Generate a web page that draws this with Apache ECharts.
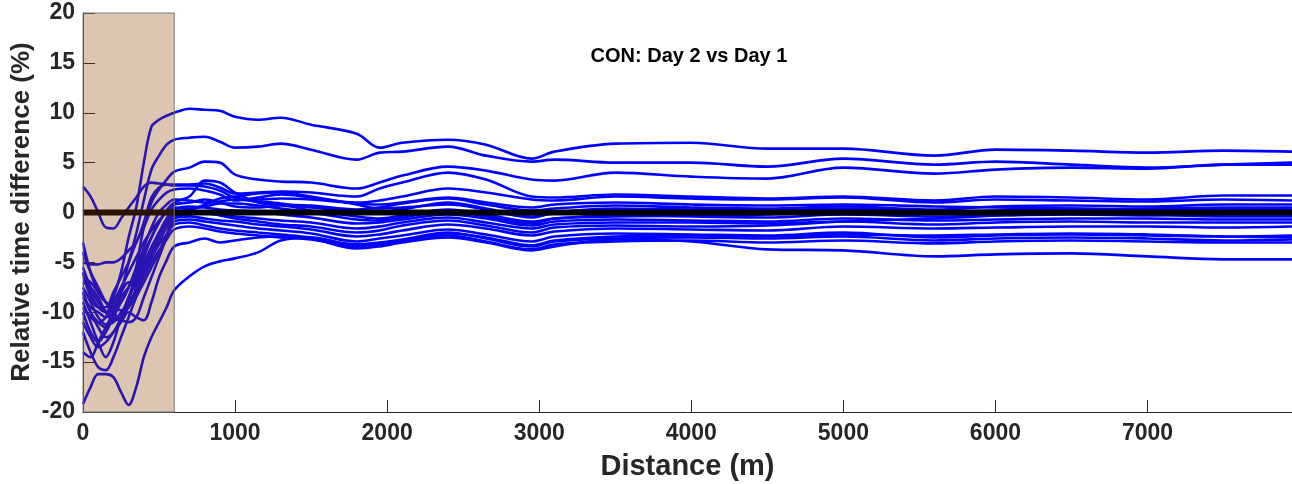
<!DOCTYPE html>
<html>
<head>
<meta charset="utf-8">
<script src="https://cdn.jsdelivr.net/npm/echarts@6/dist/echarts.min.js"></script>
<style>
  html, body { margin: 0; padding: 0; background: #ffffff; }
  #chart { width: 1292px; height: 484px; }
</style>
</head>
<body>
<div id="chart"></div>
<script>
// Distance samples (m) shared by every run
const distance = [0, 50, 100, 150, 200, 250, 300, 350, 400, 450, 500, 550,
  600, 700, 800, 900, 1000, 1150, 1300, 1500, 1800, 1950, 2100, 2400, 2650,
  2950, 3100, 3500, 4000, 4500, 5000, 5600, 6000, 6500, 7000, 7500, 7950];

// Relative time difference (%) of each participant, Day 2 vs Day 1
const run01 = [-6, -8, -9.5, -10, -8.5, -6, -2.5, 0.5, 5.0, 8.6, 9.3, 9.7,
  10.0, 10.4, 10.3, 10.2, 9.6, 9.3, 9.5, 8.8, 7.9, 6.5, 7.0, 7.3, 6.8,
  5.4, 6.1, 6.9, 7.0, 6.4, 6.4, 5.7, 6.3, 6.2, 6.0, 6.2, 6.1];
const run02 = [-8, -10, -11, -11.5, -10.5, -8, -5, -2.1, 1.2, 4.3, 5.7, 6.8,
  7.3, 7.5, 7.6, 7.1, 6.5, 6.6, 6.9, 6.3, 5.3, 6.0, 6.1, 6.6, 5.7,
  5.1, 5.3, 5.0, 5.0, 4.6, 5.4, 4.8, 5.1, 4.8, 4.5, 4.8, 5.0];
const run03 = [-4, -6, -7.5, -9, -10, -10.8, -9, -5.5, -1.5, 1.0, 2.3, 3.3,
  4.1, 4.5, 5.1, 5.0, 3.8, 3.3, 3.1, 3.0, 2.4, 3.0, 3.7, 4.6, 4.2,
  3.3, 3.2, 4.0, 3.6, 3.4, 4.5, 3.9, 4.3, 4.5, 4.4, 4.8, 4.8];
const run04 = [-5, -5.2, -5.2, -5, -5, -4.6, -3.8, -3, -1, 1.5, 2.5, 2.8,
  2.8, 2.8, 2.9, 2.5, 1.9, 2.0, 2.1, 2.0, 1.6, 2.4, 3.0, 4.0, 3.3,
  1.6, 1.5, 1.8, 1.6, 1.4, 1.6, 1.2, 1.6, 1.5, 1.3, 1.7, 1.7];
const run05 = [2.6, 1.6, 0, -1.5, -1.6, -0.6, 0.5, 1.5, 2.6, 3.0, 2.9, 2.8,
  2.7, 2.7, 2.6, 2.2, 1.5, 1.3, 1.4, 1.3, 1.0, 1.2, 1.6, 2.4, 2.0,
  1.3, 1.2, 1.6, 1.4, 1.3, 1.5, 1.0, 1.3, 1.2, 1.1, 1.3, 1.2];
const run06 = [-8, -10, -11.5, -12.5, -12, -10.5, -8.5, -6.5, -4.5, -2.5, -1, 0.2,
  1.0, 1.6, 3.2, 3.0, 2.0, 1.0, 0.8, 0.7, 0.3, 0.5, 0.9, 1.4, 0.8,
  0.2, 0.4, 0.7, 0.5, 0.4, 0.6, 0.3, 0.6, 0.7, 0.6, 0.8, 0.8];
const run07 = [-6, -8.5, -9.5, -9.5, -8, -6.5, -5, -3, -1.5, 0.3, 1.3, 2.0,
  2.3, 2.4, 2.2, 1.8, 1.2, 1.5, 1.8, 1.5, 0.9, 0.8, 1.0, 1.5, 1.0,
  0.5, 0.8, 1.0, 0.8, 0.7, 0.8, 0.6, 0.5, 0.4, 0.3, 0.4, 0.3];
const run08 = [-3, -6, -8, -9, -9.5, -9, -7.5, -5.5, -3.5, -1.5, 0, 0.8,
  1.3, 1.2, 1.0, 1.1, 1.3, 1.1, 0.9, 0.5, 0.2, 0.1, 0.3, 1.0, 0.4,
  -0.4, -0.1, 0.2, 0.1, 0.0, 0.3, -0.1, 0.1, 0.2, 0.1, 0.0, 0.0];
const run09 = [-10, -12, -13, -12, -10.5, -9, -7.5, -6, -4, -2.5, -1, 0.2,
  0.8, 1.0, 1.3, 1.0, 0.6, 0.5, 0.7, 0.2, -0.4, -0.6, -0.3, 0.3, -0.2,
  -0.9, -0.6, -0.3, -0.4, -0.5, -0.2, -0.4, -0.3, -0.2, -0.3, -0.2, -0.2];
const run10 = [-7, -7.5, -8.5, -10, -10.8, -10.5, -9.5, -7.5, -5.5, -3.5, -2, -0.6,
  0.3, 0.6, 0.5, 0.3, 0.2, 0.1, -0.2, -0.5, -1.1, -1.0, -0.7, -0.2, -0.6,
  -1.3, -0.9, -0.7, -0.8, -0.9, -0.6, -0.8, -0.7, -0.6, -0.6, -0.7, -0.7];
const run11 = [-9, -11, -13, -14.5, -13, -10.5, -8.5, -7, -5.5, -4, -2.5, -1.0,
  0.1, 0.2, -0.1, -0.2, -0.4, -0.6, -0.8, -1.0, -1.6, -1.4, -1.0, -0.5, -1.0,
  -1.6, -1.2, -1.0, -1.0, -1.1, -0.9, -1.2, -1.0, -0.9, -1.0, -1.0, -1.0];
const run12 = [-6.5, -7, -8, -9, -9.5, -9.8, -9.5, -8, -6, -4.5, -3, -1.5,
  -0.4, -0.2, 0.0, -0.3, -0.6, -0.9, -1.2, -1.4, -2.0, -1.8, -1.3, -0.8, -1.3,
  -2.0, -1.5, -1.3, -1.4, -1.3, -0.9, -0.6, -0.3, 0.2, 0.4, 0.5, 0.5];
const run13 = [-12, -14, -15.5, -15.8, -14.5, -12.5, -10.5, -8.5, -7, -5.5, -4, -2.2,
  -0.6, -0.4, -0.6, -0.8, -0.9, -1.2, -1.4, -1.7, -2.4, -2.2, -1.8, -1.2, -1.6,
  -2.3, -1.9, -1.6, -1.7, -1.8, -1.4, -1.6, -1.5, -1.4, -1.4, -1.5, -1.4];
const run14 = [-5.5, -7.5, -9, -10, -10.5, -10.8, -11, -10.5, -8.5, -6.5, -4.5, -2.5,
  -0.9, -0.7, -0.9, -1.1, -1.3, -1.6, -1.8, -2.1, -2.9, -2.6, -2.3, -1.7, -2.2,
  -2.9, -2.4, -2.1, -2.2, -2.3, -2.0, -2.5, -2.3, -2.2, -2.3, -2.4, -2.3];
const run15 = [-8.5, -9.5, -10, -10.5, -9.5, -8, -7, -7, -6, -4.5, -3.2, -2.2,
  -1.2, -1.0, -1.3, -1.6, -1.8, -2.0, -2.2, -2.5, -3.2, -3.0, -2.7, -2.0, -2.6,
  -3.4, -2.9, -2.6, -2.5, -2.6, -2.4, -2.8, -2.6, -2.5, -2.6, -2.8, -2.7];
const run16 = [-7.5, -9, -10.5, -11.2, -11, -10, -9, -8, -6.5, -5, -3.8, -2.7,
  -1.7, -1.4, -1.6, -1.9, -2.1, -2.3, -2.5, -2.7, -3.4, -3.2, -2.9, -2.3, -2.9,
  -3.7, -3.2, -2.9, -2.8, -3.0, -2.8, -3.1, -2.9, -2.8, -2.9, -3.0, -3.0];
const run17 = [-11, -12.5, -13.5, -13, -12, -11, -10, -10.5, -10.8, -9, -6.5, -4.8,
  -3.4, -3.0, -2.6, -3.0, -2.8, -2.5, -2.4, -2.6, -3.6, -3.4, -3.0, -2.5, -3.0,
  -3.8, -3.4, -2.7, -2.9, -3.7, -3.8, -4.4, -4.2, -4.1, -4.4, -4.7, -4.7];
const run18 = [-19.2, -17.5, -16.2, -16.2, -16.5, -18, -19.3, -17.5, -14.5, -12.5, -11, -9.5,
  -7.8, -6.4, -5.4, -4.9, -4.6, -4.0, -2.8, -2.5, -3.3, -3.1, -2.8, -2.1, -2.5,
  -3.3, -2.8, -2.4, -2.3, -2.4, -2.2, -2.3, -2.2, -2.1, -2.2, -2.4, -2.5];
const run19 = [-9.5, -10.5, -11, -10.5, -9, -7.5, -6, -4.5, -3, -1.8, -0.8, 0,
  0.5, 0.4, 0.6, 0.9, 0.9, 0.7, 0.4, 0.0, -0.7, -0.8, -0.5, 0.1, -0.4,
  -1.1, -0.6, -0.4, -0.3, -0.2, 0.1, 0.2, 0.0, -0.1, -0.2, -0.4, -0.4];
const run20 = [-14, -14.5, -13, -11.5, -10, -8.5, -7.5, -6.5, -5, -3.5, -2.2, -1.0,
  -0.2, 0.2, 0.8, 1.4, 1.6, 1.9, 2.0, 1.6, 0.8, 0.4, 0.5, 0.8, 0.3,
  -0.5, 0.0, 0.4, 0.3, 0.2, 0.4, 0.1, 0.2, 0.4, 0.3, 0.2, 0.2];

const runs = [run01, run02, run03, run04, run05, run06, run07, run08, run09, run10,
  run11, run12, run13, run14, run15, run16, run17, run18, run19, run20];

// Shaded start section (m) and axis ticks
const startZone = [0, 600];
const xTicks = [0, 1000, 2000, 3000, 4000, 5000, 6000, 7000];
const yTicks = [-20, -15, -10, -5, 0, 5, 10, 15, 20];
const xRange = [0, 7950];
const yRange = [-20, 20];

const FONT = '"Liberation Sans", Arial, Helvetica, sans-serif';
const INK = '#262626';

const chart = echarts.init(document.getElementById('chart'), null, { renderer: 'canvas' });

const runSeries = runs.map((vals, i) => ({
  name: 'P' + (i + 1),
  type: 'line',
  data: distance.map((d, k) => [d, vals[k]]),
  smooth: 0.35,
  showSymbol: false,
  symbol: 'none',
  lineStyle: { color: '#0000ff', width: 2.6 },
  z: 2,
  silent: true
}));

chart.setOption({
  animation: false,
  backgroundColor: '#ffffff',
  grid: { left: 83, right: 0, top: 13, bottom: 72, containLabel: false, outerBoundsMode: 'none' },
  graphic: [
    {
      type: 'text',
      x: 689, y: 56,
      style: {
        text: 'CON: Day 2 vs Day 1',
        font: 'bold 20px ' + FONT,
        fill: '#000000',
        textAlign: 'center',
        textVerticalAlign: 'middle'
      },
      z: 20
    },
    {
      // y-axis title, rotated to read bottom-to-top
      type: 'text',
      x: 22, y: 212,
      rotation: Math.PI / 2,
      style: {
        text: 'Relative time difference (%)',
        font: 'bold 26px ' + FONT,
        fill: INK,
        textAlign: 'center',
        textVerticalAlign: 'middle'
      },
      z: 20
    }
  ],
  xAxis: {
    type: 'value',
    min: xRange[0], max: xRange[1],
    interval: 1000,
    name: 'Distance (m)',
    nameLocation: 'middle',
    nameGap: 40,
    nameTextStyle: { fontFamily: FONT, fontWeight: 'bold', fontSize: 29, color: INK },
    axisLine: { show: true, onZero: false, lineStyle: { color: INK, width: 1 } },
    axisTick: { show: true, inside: true, length: 12, customValues: xTicks, lineStyle: { color: INK, width: 1 } },
    axisLabel: {
      fontFamily: FONT, fontWeight: 'bold', fontSize: 23, color: INK, margin: 10,
      customValues: xTicks,
      formatter: (v) => String(v)
    },
    splitLine: { show: false }
  },
  yAxis: {
    type: 'value',
    min: yRange[0], max: yRange[1],
    interval: 5,
    axisLine: { show: true, onZero: false, lineStyle: { color: INK, width: 1 } },
    axisTick: { show: true, inside: true, length: 12, customValues: yTicks, lineStyle: { color: INK, width: 1 } },
    axisLabel: {
      fontFamily: FONT, fontWeight: 'bold', fontSize: 23, color: INK, margin: 8,
      customValues: yTicks,
      formatter: (v) => String(v)
    },
    splitLine: { show: false }
  },
  series: runSeries.concat([
    {
      name: 'zero',
      type: 'line',
      data: [[xRange[0], 0], [xRange[1], 0]],
      showSymbol: false,
      symbol: 'none',
      lineStyle: { color: '#000000', width: 6 },
      z: 4,
      silent: true
    },
    {
      name: 'start',
      type: 'line',
      data: [[startZone[0], 0], [startZone[1], 0]],
      showSymbol: false,
      symbol: 'none',
      lineStyle: { opacity: 0, width: 0 },
      z: 10,
      silent: true,
      markArea: {
        silent: true,
        z: 10,
        itemStyle: { color: 'rgba(138,65,0,0.3)', borderColor: '#7a7a7a', borderWidth: 1 },
        data: [[{ xAxis: startZone[0], yAxis: yRange[0] }, { xAxis: startZone[1], yAxis: yRange[1] }]]
      }
    }
  ])
});
</script>
</body>
</html>
